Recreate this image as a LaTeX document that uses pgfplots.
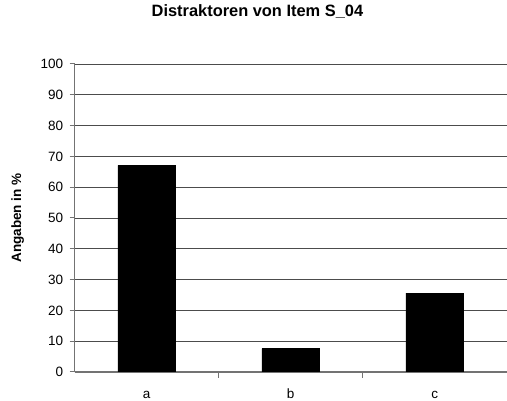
\documentclass[border=0pt]{standalone}
\usepackage{fontspec}
\setmainfont{Liberation Sans}
\usepackage{pgfplots}
\pgfplotsset{compat=1.18}
\begin{document}
\begin{tikzpicture}
\begin{axis}[
  scale only axis,
  width=432pt, height=308pt,
  xmin=0, xmax=3, ymin=0, ymax=100,
  ybar, bar width=0.4,
  axis x line*=bottom, axis y line*=left,
  axis line style={draw=black!55, line width=1.2pt},
  ytick={0,10,...,100},
  xtick={0.5,1.5,2.5},
  xticklabels={a,b,c},
  minor xtick={1,2},
  tick align=outside,
  major tick length=5pt,
  minor tick length=6pt,
  major x tick style={draw=none},
  minor x tick style={draw=black!55, line width=1pt},
  major y tick style={draw=black!55, line width=1pt},
  ymajorgrids,
  grid style={draw=black!70, line width=0.9pt},
  /pgf/number format/assume math mode=true,
  tick label style={font=\fontsize{13.5}{16}\selectfont},
  x tick label style={anchor=base, yshift=-22pt},
  y tick label style={xshift=-3pt},
  title={Distraktoren von Item S\_04},
  title style={font=\fontsize{16.4}{19}\selectfont\bfseries,
    at={(axis description cs:0.423,1)}, anchor=base, yshift=41pt},
  ylabel={Angaben in \%},
  ylabel style={font=\fontsize{13.5}{16}\selectfont\bfseries,
    at={(axis description cs:-0.109,0.5)}, anchor=south, rotate=0},
]
\addplot[fill=black, draw=black] coordinates {(0.5,67.1) (1.5,7.6) (2.5,25.6)};
\end{axis}
\pgfresetboundingbox
\path[use as bounding box] (current axis.south west) ++(-74.7pt,-29pt) rectangle ++(507pt,401pt);
\end{tikzpicture}
\end{document}
